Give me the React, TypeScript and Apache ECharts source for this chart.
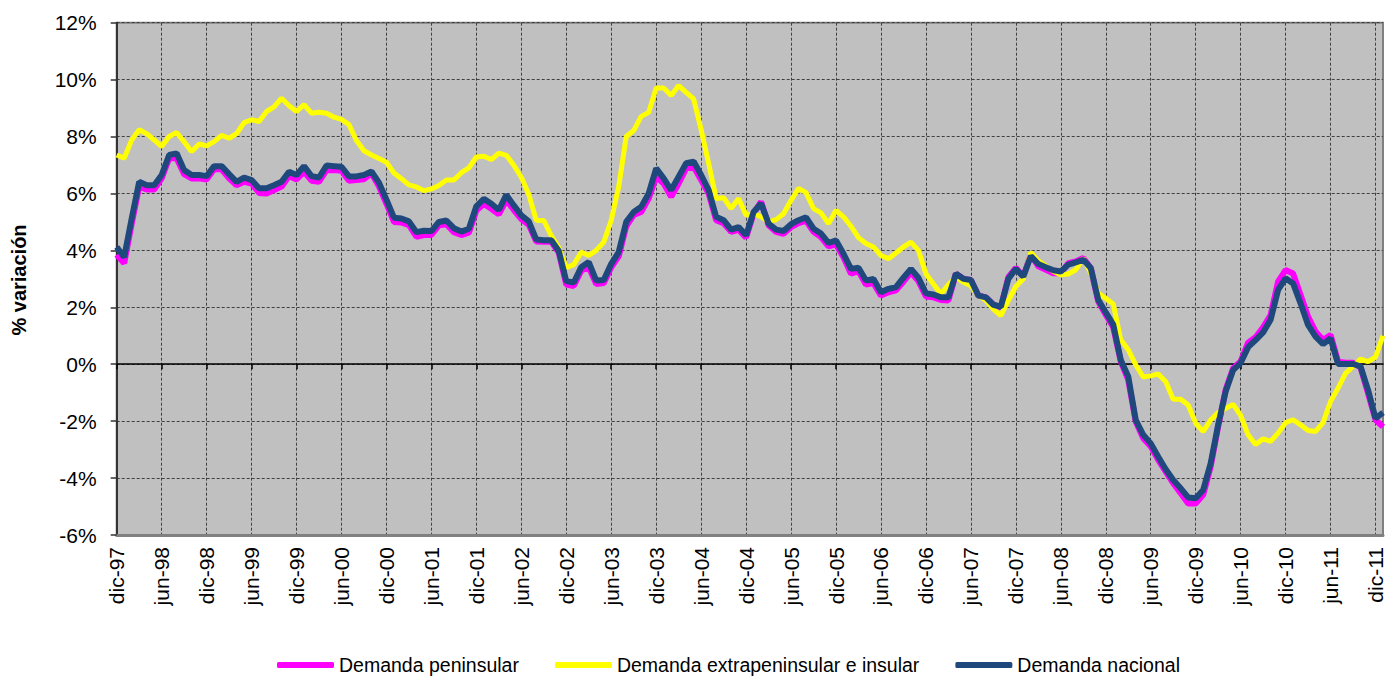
import React, { useEffect, useRef } from "react";
import * as echarts from "echarts";

const MONTHS = ["ene", "feb", "mar", "abr", "may", "jun", "jul", "ago", "sep", "oct", "nov", "dic"];
// dic-97 .. ene-12 (170 months)
const CATEGORIES: string[] = [];
for (let i = 0; i < 170; i++) {
  const m = (11 + i) % 12;
  const y = (97 + Math.floor((11 + i) / 12)) % 100;
  CATEGORIES.push(`${MONTHS[m]}-${String(y).padStart(2, "0")}`);
}

const Y_TICKS = { min: -6, max: 12, interval: 2 };

const PENINSULAR = [
  3.85, 3.55, 4.94, 6.24, 6.14, 6.14, 6.53, 7.24, 7.24, 6.68,
  6.53, 6.53, 6.49, 6.85, 6.85, 6.53, 6.29, 6.41, 6.35, 6.02,
  6.0, 6.12, 6.24, 6.61, 6.49, 6.76, 6.45, 6.41, 6.82, 6.82,
  6.8, 6.45, 6.47, 6.5, 6.7, 6.25, 5.64, 5.0, 4.98, 4.89,
  4.48, 4.54, 4.54, 4.88, 4.92, 4.64, 4.54, 4.62, 5.4, 5.63,
  5.46, 5.27, 5.77, 5.42, 5.1, 4.9, 4.31, 4.3, 4.3, 3.92,
  2.8, 2.75, 3.29, 3.41, 2.82, 2.85, 3.41, 3.79, 4.85, 5.24,
  5.35, 5.82, 6.59, 6.35, 5.88, 6.35, 6.88, 6.94, 6.47, 6.0,
  5.06, 4.95, 4.65, 4.72, 4.45, 5.3, 5.71, 4.88, 4.65, 4.58,
  4.82, 4.96, 5.04, 4.65, 4.47, 4.14, 4.21, 3.76, 3.18, 3.27,
  2.8, 2.85, 2.41, 2.53, 2.6, 2.9, 3.22, 2.92, 2.38, 2.35,
  2.26, 2.24, 3.18, 3.0, 2.96, 2.41, 2.35, 2.09, 2.0, 3.06,
  3.39, 3.08, 3.85, 3.44, 3.32, 3.2, 3.2, 3.55, 3.61, 3.73,
  3.38, 2.2, 1.74, 1.3, 0.1, -0.55, -2.01, -2.6, -2.89, -3.36,
  -3.77, -4.18, -4.53, -4.89, -4.89, -4.59, -3.6, -2.19, -0.9, -0.14,
  0.1, 0.76, 0.95, 1.3, 1.73, 2.9, 3.31, 3.19, 2.43, 1.67,
  1.15, 0.85, 1.03, 0.09, 0.05, 0.05, -0.1, -1.02, -1.95, -2.2,
];

const EXTRAPENINSULAR = [
  7.35, 7.24, 7.88, 8.24, 8.1, 7.88, 7.65, 8.0, 8.14, 7.82,
  7.47, 7.74, 7.67, 7.82, 8.04, 7.94, 8.1, 8.49, 8.59, 8.53,
  8.88, 9.04, 9.35, 9.08, 8.88, 9.12, 8.82, 8.85, 8.82, 8.68,
  8.6, 8.42, 7.86, 7.5, 7.35, 7.23, 7.1, 6.72, 6.52, 6.3,
  6.23, 6.1, 6.16, 6.28, 6.47, 6.47, 6.73, 6.9, 7.28, 7.31,
  7.19, 7.42, 7.34, 6.99, 6.57, 5.96, 5.06, 5.05, 4.52, 4.09,
  3.39, 3.5, 3.94, 3.82, 4.0, 4.29, 5.06, 6.24, 8.0, 8.21,
  8.71, 8.85, 9.71, 9.71, 9.44, 9.79, 9.55, 9.32, 8.24, 7.06,
  5.82, 5.85, 5.47, 5.82, 5.24, 5.29, 5.18, 5.0, 5.08, 5.29,
  5.76, 6.18, 6.03, 5.47, 5.32, 4.94, 5.41, 5.18, 4.85, 4.45,
  4.24, 4.12, 3.82, 3.71, 3.91, 4.12, 4.29, 4.0, 3.18, 2.82,
  2.47, 2.8, 3.06, 2.88, 2.76, 2.41, 2.24, 1.94, 1.71, 2.24,
  2.73, 3.0, 3.93, 3.63, 3.46, 3.26, 3.14, 3.17, 3.32, 3.73,
  3.2, 2.5, 2.32, 2.12, 0.86, 0.51, -0.02, -0.45, -0.41, -0.34,
  -0.61, -1.23, -1.23, -1.43, -2.07, -2.37, -1.96, -1.7, -1.55, -1.41,
  -1.8, -2.48, -2.82, -2.62, -2.71, -2.42, -2.05, -1.95, -2.13, -2.33,
  -2.36, -2.05, -1.31, -0.84, -0.32, -0.08, 0.18, 0.09, 0.25, 1.0,
];

const NACIONAL = [
  4.12, 3.76, 5.12, 6.41, 6.29, 6.29, 6.65, 7.35, 7.41, 6.82,
  6.65, 6.65, 6.61, 6.96, 6.96, 6.68, 6.41, 6.56, 6.47, 6.18,
  6.18, 6.29, 6.41, 6.76, 6.65, 6.96, 6.61, 6.56, 6.98, 6.96,
  6.94, 6.6, 6.6, 6.65, 6.77, 6.38, 5.78, 5.15, 5.12, 5.02,
  4.64, 4.69, 4.68, 5.0, 5.05, 4.78, 4.66, 4.76, 5.55, 5.81,
  5.64, 5.42, 5.95, 5.58, 5.23, 5.02, 4.38, 4.36, 4.36, 3.98,
  2.92, 2.87, 3.41, 3.59, 2.94, 2.96, 3.53, 3.94, 5.0, 5.35,
  5.53, 6.0, 6.88, 6.53, 6.12, 6.59, 7.06, 7.12, 6.65, 6.12,
  5.18, 5.06, 4.73, 4.82, 4.53, 5.35, 5.65, 4.94, 4.73, 4.68,
  4.92, 5.06, 5.16, 4.76, 4.59, 4.26, 4.35, 3.88, 3.35, 3.39,
  2.94, 3.0, 2.53, 2.65, 2.71, 3.04, 3.35, 3.04, 2.49, 2.45,
  2.35, 2.35, 3.18, 3.0, 2.96, 2.41, 2.35, 2.09, 2.02, 3.0,
  3.35, 3.08, 3.8, 3.52, 3.41, 3.3, 3.26, 3.5, 3.58, 3.67,
  3.38, 2.26, 1.82, 1.39, 0.15, -0.43, -1.96, -2.48, -2.78, -3.25,
  -3.69, -4.07, -4.36, -4.68, -4.71, -4.42, -3.48, -2.13, -0.96, -0.2,
  0.04, 0.6, 0.85, 1.12, 1.56, 2.61, 3.02, 2.84, 2.14, 1.38,
  0.97, 0.71, 0.91, 0.01, 0.01, 0.01, -0.08, -0.9, -1.9, -1.7,
];

const SERIES_NAMES = [
  "Demanda peninsular",
  "Demanda extrapeninsular e insular",
  "Demanda nacional",
];
const Y_TITLE = "% variación";

const FONT = "Arial, 'Liberation Sans', Helvetica, sans-serif";

export default function App() {
  const ref = useRef<HTMLDivElement>(null);
  useEffect(() => {
    if (!ref.current) return;
    const chart = echarts.init(ref.current, undefined, { renderer: "svg" });
    const dash = [3, 2];
    chart.setOption({
      animation: false,
      backgroundColor: "#ffffff",
      textStyle: { fontFamily: FONT },
      grid: {
        left: 116.7,
        right: 1.8,
        top: 22.7,
        bottom: 142,
        show: true,
        backgroundColor: "#c0c0c0",
        borderColor: "#808080",
        borderWidth: 2,
      },
      legend: {
        left: 272,
        top: 650,
        icon: "roundRect",
        itemWidth: 57,
        itemHeight: 6,
        itemGap: 36,
        textStyle: { fontFamily: FONT, fontSize: 19.5, color: "#000" },
        data: SERIES_NAMES,
      },
      xAxis: [
        {
          type: "category",
          data: CATEGORIES,
          boundaryGap: false,
          axisLine: { show: true, onZero: false, lineStyle: { color: "#808080", width: 3 } },
          axisTick: { show: false },
          axisLabel: {
            interval: 5,
            rotate: 90,
            margin: 12,
            fontSize: 21,
            color: "#000",
            fontFamily: FONT,
          },
          splitLine: {
            show: true,
            interval: 5,
            lineStyle: { color: "#404040", width: 1, type: dash },
          },
        },
        {
          type: "category",
          data: CATEGORIES,
          boundaryGap: false,
          position: "bottom",
          axisLine: { show: true, onZero: true, lineStyle: { color: "#000", width: 1.5 } },
          axisTick: { show: true, interval: 5, length: 5, lineStyle: { color: "#000", width: 1.5 } },
          axisLabel: { show: false },
          splitLine: { show: false },
        },
      ],
      yAxis: {
        type: "value",
        min: Y_TICKS.min,
        max: Y_TICKS.max,
        interval: Y_TICKS.interval,
        axisLine: { show: true, lineStyle: { color: "#333", width: 2 } },
        axisTick: { show: true, length: 6, lineStyle: { color: "#333", width: 1.5 } },
        axisLabel: {
          formatter: (v: number) => `${v}%`,
          margin: 20,
          fontSize: 21,
          color: "#000",
          fontFamily: FONT,
        },
        splitLine: { show: true, lineStyle: { color: "#404040", width: 1, type: dash } },
      },
      graphic: [
        {
          type: "text",
          x: 19,
          y: 280,
          rotation: Math.PI / 2,
          style: {
            text: Y_TITLE,
            font: `bold 20px ${FONT}`,
            fill: "#000",
            textAlign: "center",
            textVerticalAlign: "middle",
          },
        },
      ],
      series: [
        {
          name: SERIES_NAMES[0],
          type: "line",
          data: PENINSULAR,
          showSymbol: false,
          symbol: "none",
          color: "#ff00ff",
          lineStyle: { color: "#ff00ff", width: 6 },
        },
        {
          name: SERIES_NAMES[1],
          type: "line",
          data: EXTRAPENINSULAR,
          showSymbol: false,
          symbol: "none",
          color: "#ffff00",
          lineStyle: { color: "#ffff00", width: 5 },
        },
        {
          name: SERIES_NAMES[2],
          type: "line",
          data: NACIONAL,
          showSymbol: false,
          symbol: "none",
          color: "#1f497d",
          lineStyle: { color: "#1f497d", width: 6 },
        },
      ],
    });
    return () => chart.dispose();
  }, []);
  return (
    <div
      ref={ref}
      style={{ position: "absolute", left: 0, top: 0, width: 1386, height: 677 }}
    />
  );
}
